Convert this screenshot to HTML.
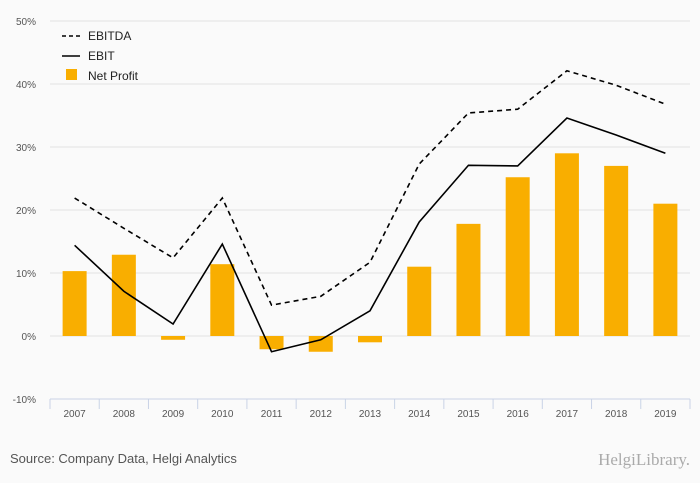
<!DOCTYPE html>
<html><head><meta charset="utf-8"><style>
body{margin:0;background:#fafafa;}
svg{display:block;font-family:"Liberation Sans",sans-serif;}
</style></head><body>
<svg id="c" width="700" height="483">
<rect width="700" height="483" fill="#fafafa"/>
<g id="grid"></g><g id="bars"></g><g id="lines"></g><g id="axes"></g>
<g font-size="12" fill="#222">
<line x1="62" y1="36" x2="80" y2="36" stroke="#000" stroke-width="1.6" stroke-dasharray="4,3"/>
<text x="88" y="40">EBITDA</text>
<line x1="62" y1="56" x2="80" y2="56" stroke="#000" stroke-width="1.6"/>
<text x="88" y="60">EBIT</text>
<rect x="66" y="69" width="11" height="11" fill="#f9ae00"/>
<text x="88" y="80">Net Profit</text>
</g>
<text x="10" y="463" font-size="13" fill="#555">Source: Company Data, Helgi Analytics</text>
<text x="690" y="465" font-size="17" fill="#aaa" text-anchor="end" font-family="Liberation Serif,serif">HelgiLibrary.</text>
</svg>
<script>
const categories=["2007","2008","2009","2010","2011","2012","2013","2014","2015","2016","2017","2018","2019"];
const netProfit=[10.3,12.9,-0.6,11.4,-2.1,-2.5,-1.0,11.0,17.8,25.2,29.0,27.0,21.0];
const ebitda=[21.9,17.1,12.4,21.9,4.9,6.3,11.7,27.3,35.4,36.0,42.1,39.8,36.8];
const ebit=[14.4,7.1,1.9,14.6,-2.5,-0.6,4.0,18.1,27.1,27.0,34.6,31.9,29.0];
const yTicks=[-10,0,10,20,30,40,50];
const NS="http://www.w3.org/2000/svg";
const x0=50,x1=690,yTop=21,yBot=399,vMin=-10,vMax=50;
const slot=(x1-x0)/categories.length;
const X=i=>x0+slot*(i+0.5);
const Y=v=>yBot-(v-vMin)/(vMax-vMin)*(yBot-yTop);
function mk(tag,attrs,parent){const e=document.createElementNS(NS,tag);for(const k in attrs)e.setAttribute(k,attrs[k]);document.getElementById(parent).appendChild(e);return e;}
yTicks.forEach(t=>{
  if(t>vMin){const g=mk('line',{x1:x0,x2:x1,y1:Y(t),y2:Y(t),stroke:'#e3e3e3','stroke-width':1},'grid');
  
  }
  const l=mk('text',{x:36,y:Y(t)+4,'font-size':10,fill:'#555','text-anchor':'end'},'axes');
  l.textContent=t+'%';
  
  
});
const ax=mk('line',{x1:x0,x2:x1,y1:yBot,y2:yBot,stroke:'#c9d3e6','stroke-width':1},'axes');


for(let i=0;i<=categories.length;i++){
  const t=mk('line',{x1:x0+slot*i,x2:x0+slot*i,y1:yBot,y2:yBot+10,stroke:'#c9d3e6'},'axes');
  
  
}
categories.forEach((c,i)=>{
  const t=mk('text',{x:X(i),y:yBot+18,'font-size':10,fill:'#555','text-anchor':'middle'},'axes');
  t.textContent=c;
  
  
  const v=netProfit[i];
  const b=mk('rect',{x:X(i)-12,width:24,y:Math.min(Y(v),Y(0)),height:Math.abs(Y(v)-Y(0)),fill:'#f9ae00'},'bars');
  
  
});
function line(arr,dash,name){
  const p=mk('polyline',{points:arr.map((v,i)=>X(i)+','+Y(v)).join(' '),fill:'none',stroke:'#000','stroke-width':1.6},'lines');
  if(dash)p.setAttribute('stroke-dasharray','5,4');
  
  
}
line(ebitda,true,'line-ebitda');
line(ebit,false,'line-ebit');
</script>
</body></html>
